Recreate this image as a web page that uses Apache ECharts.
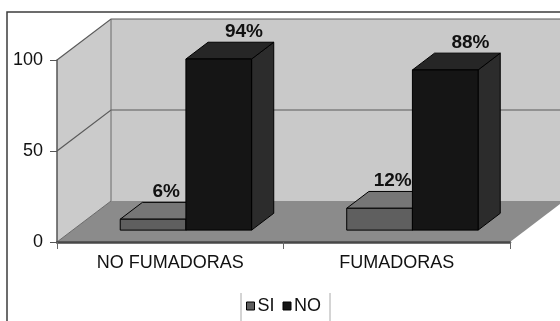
<!DOCTYPE html>
<html>
<head>
<meta charset="utf-8">
<script src="https://cdn.jsdelivr.net/npm/echarts@6/dist/echarts.min.js"></script>
<style>
html,body{margin:0;padding:0;background:#fff;}
#chart{width:560px;height:321px;}
</style>
</head>
<body>
<div id="chart"></div>
<script>
// ---- data ----
const categories = ['NO FUMADORAS', 'FUMADORAS'];
const seriesNames = ['SI', 'NO'];
const siValues = [6, 12];
const noValues = [94, 88];
const yTicks = [0, 50, 100];

// ---- style constants ----
const FONT = "'Liberation Sans', Arial, sans-serif";
const DX = 54, DY = -41;          // depth offset of back wall
const D0 = 0.29, D1 = 0.70;       // bar depth range (fraction)
const BARFRAC = 0.29;             // bar width as fraction of band
const barColors = {
  SI: { front: '#5f5f5f', top: '#767676', side: '#4a4a4a', labelDx: -9 },
  NO: { front: '#151515', top: '#262626', side: '#2c2c2c', labelDx: 3 }
};

function wallsRender(params, api) {
  const cs = params.coordSys;
  const L = cs.x, T = cs.y, R = cs.x + cs.width, B = cs.y + cs.height;
  const children = [];
  children.push({ type: 'polygon', shape: { points: [[L, T], [L + DX, T + DY], [L + DX, B + DY], [L, B]] },
    style: { fill: '#cbcbcb', stroke: null } });
  children.push({ type: 'rect', shape: { x: L + DX, y: T + DY, width: R - L, height: B - T },
    style: { fill: '#c9c9c9', stroke: null } });
  children.push({ type: 'polygon', shape: { points: [[L, B], [R, B], [R + DX, B + DY], [L + DX, B + DY]] },
    style: { fill: '#8b8b8b', stroke: null } });
  yTicks.forEach(function (v) {
    if (v === 0) return;
    const y = api.coord([0, v])[1];
    children.push({ type: 'polyline', shape: { points: [[L, y], [L + DX, y + DY], [R + DX, y + DY]] },
      style: { stroke: '#5a5a5a', lineWidth: 1.2, fill: null } });
  });
  children.push({ type: 'line', shape: { x1: L + DX, y1: T + DY, x2: L + DX, y2: B + DY },
    style: { stroke: '#6a6a6a', lineWidth: 1 } });
  children.push({ type: 'line', shape: { x1: L, y1: B, x2: L + DX, y2: B + DY },
    style: { stroke: '#6a6a6a', lineWidth: 1 } });
  return { type: 'group', children: children };
}

function makeBarRender(name) {
  const c = barColors[name];
  return function (params, api) {
    const cat = api.value(0), val = api.value(1);
    const base = api.coord([cat, 0]);
    const top = api.coord([cat, val]);
    const band = api.size([1, 0])[0];
    const bw = band * BARFRAC;
    const sx = DX * D0, sy = DY * D0;
    const bx = DX * (D1 - D0), by = DY * (D1 - D0);
    const x0 = base[0] + sx + (name === 'SI' ? -bw : 0);
    const x1 = x0 + bw;
    const yb = base[1] + sy, yt = top[1] + sy;
    const stroke = { stroke: '#000', lineWidth: 1 };
    return {
      type: 'group',
      children: [
        { type: 'polygon', shape: { points: [[x1, yt], [x1 + bx, yt + by], [x1 + bx, yb + by], [x1, yb]] },
          style: Object.assign({ fill: c.side }, stroke) },
        { type: 'polygon', shape: { points: [[x0, yt], [x1, yt], [x1 + bx, yt + by], [x0 + bx, yt + by]] },
          style: Object.assign({ fill: c.top }, stroke) },
        { type: 'rect', shape: { x: x0, y: yt, width: bw, height: yb - yt },
          style: Object.assign({ fill: c.front }, stroke) },
        { type: 'text', x: x0 + bx + bw / 2 + c.labelDx, y: yt + by - 1,
          style: { text: val + '%', fill: '#111', font: 'bold 19px ' + FONT, textAlign: 'center', textVerticalAlign: 'bottom' } }
      ]
    };
  };
}

const chart = echarts.init(document.getElementById('chart'), null, { renderer: 'canvas' });
chart.setOption({
  animation: false,
  backgroundColor: '#fff',
  textStyle: { fontFamily: FONT },
  grid: { left: 57, right: 50, top: 60, bottom: 79 },
  xAxis: {
    type: 'category', data: categories, z: 5,
    axisLine: { lineStyle: { color: '#474747', width: 2.5 } },
    axisTick: { show: true, length: 7, alignWithLabel: false, lineStyle: { color: '#666' } },
    axisLabel: { fontSize: 18, color: '#111', margin: 12, fontFamily: FONT },
    splitLine: { show: false }
  },
  yAxis: {
    type: 'value', min: 0, max: 100, interval: 50, z: 5,
    axisLine: { show: true, lineStyle: { color: '#555', width: 1.5 } },
    axisTick: { show: true, length: 7, lineStyle: { color: '#555' } },
    axisLabel: { fontSize: 18, color: '#111', margin: 14, fontFamily: FONT },
    splitLine: { show: false }
  },
  legend: {
    data: seriesNames, left: 246, top: 297, padding: 0,
    itemWidth: 8, itemHeight: 8, itemGap: 8, icon: 'rect',
    itemStyle: { borderColor: '#000', borderWidth: 1 },
    textStyle: { fontSize: 18, color: '#111', fontFamily: FONT, padding: [0, 0, 0, -2] }
  },
  graphic: [
    { type: 'rect', shape: { x: 7, y: 12, width: 570, height: 330 },
      style: { fill: null, stroke: '#3c3c3c', lineWidth: 1.5 }, z: 100 },
    { type: 'line', shape: { x1: 241, y1: 293, x2: 241, y2: 321 }, style: { stroke: '#aaa', lineWidth: 1 } },
    { type: 'line', shape: { x1: 330, y1: 293, x2: 330, y2: 321 }, style: { stroke: '#aaa', lineWidth: 1 } }
  ],
  series: [
    { type: 'custom', name: '_walls', renderItem: wallsRender, data: [[0, 0]], z: 1, silent: true },
    { type: 'custom', name: 'SI', renderItem: makeBarRender('SI'), itemStyle: { color: barColors.SI.front },
      data: siValues.map(function (v, i) { return [i, v]; }), z: 3 },
    { type: 'custom', name: 'NO', renderItem: makeBarRender('NO'), itemStyle: { color: barColors.NO.front },
      data: noValues.map(function (v, i) { return [i, v]; }), z: 4 }
  ]
});
</script>
</body>
</html>
